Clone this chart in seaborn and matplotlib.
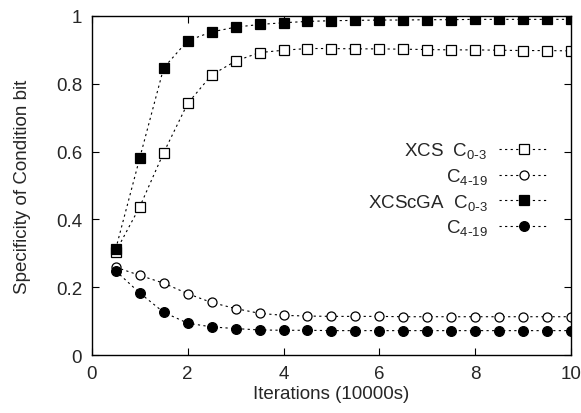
import numpy as np
import seaborn as sns
import matplotlib.pyplot as plt

# data
iterations = [0.5, 1, 1.5, 2, 2.5, 3, 3.5, 4, 4.5, 5,
              5.5, 6, 6.5, 7, 7.5, 8, 8.5, 9, 9.5, 10]
xcs_c03 = [0.305, 0.437, 0.597, 0.742, 0.826, 0.867, 0.892, 0.899, 0.904, 0.904,
           0.903, 0.903, 0.902, 0.901, 0.900, 0.900, 0.899, 0.898, 0.898, 0.897]
xcs_c419 = [0.259, 0.235, 0.212, 0.181, 0.155, 0.137, 0.123, 0.117, 0.115, 0.114,
            0.114, 0.114, 0.113, 0.113, 0.113, 0.113, 0.113, 0.113, 0.113, 0.113]
cga_c03 = [0.313, 0.581, 0.847, 0.927, 0.953, 0.967, 0.975, 0.980, 0.984, 0.986,
           0.987, 0.988, 0.988, 0.989, 0.989, 0.990, 0.990, 0.990, 0.990, 0.990]
cga_c419 = [0.248, 0.183, 0.126, 0.094, 0.083, 0.078, 0.074, 0.073, 0.073, 0.072,
            0.072, 0.072, 0.072, 0.072, 0.072, 0.072, 0.072, 0.072, 0.072, 0.072]

labels = [r"XCS  $\mathregular{C_{0\text{-}3}}$", r"$\mathregular{C_{4\text{-}19}}$",
          r"XCScGA  $\mathregular{C_{0\text{-}3}}$", r"$\mathregular{C_{4\text{-}19}}$"]

sns.set_style("ticks")
plt.rcParams['font.family'] = ['Liberation Sans', 'DejaVu Sans']
plt.rcParams['font.size'] = 13.5
plt.rcParams['xtick.direction'] = 'in'
plt.rcParams['ytick.direction'] = 'in'

fig, ax = plt.subplots(figsize=(5.81, 4.14), dpi=100)
fig.subplots_adjust(left=0.158, right=0.983, top=0.959, bottom=0.140)

dash = (0, (2, 3))
common = dict(color='black', linewidth=0.8, linestyle=dash, markeredgecolor='black',
              markeredgewidth=0.9)
sns.lineplot(x=iterations, y=xcs_c03, ax=ax, marker='s', markersize=6.5,
             markerfacecolor='white', label=labels[0], **common)
sns.lineplot(x=iterations, y=xcs_c419, ax=ax, marker='o', markersize=6.5,
             markerfacecolor='white', label=labels[1], **common)
sns.lineplot(x=iterations, y=cga_c03, ax=ax, marker='s', markersize=7,
             markerfacecolor='black', label=labels[2], **common)
sns.lineplot(x=iterations, y=cga_c419, ax=ax, marker='o', markersize=7,
             markerfacecolor='black', label=labels[3], **common)

ax.set_xlim(0, 10)
ax.set_ylim(0, 1)
ax.set_xticks([0, 2, 4, 6, 8, 10])
ax.set_yticks([0, 0.2, 0.4, 0.6, 0.8, 1])
ax.set_yticklabels(['0', '0.2', '0.4', '0.6', '0.8', '1'])
ax.tick_params(top=True, right=True, length=5, width=0.8, color='black', pad=7)
for s in ax.spines.values():
    s.set_linewidth(1.0)
    s.set_color('black')
ax.set_xlabel("Iterations (10000s)", labelpad=2)
ax.set_ylabel("Specificity of Condition bit", labelpad=18)

ax.legend(loc='center right', bbox_to_anchor=(0.99, 0.49), frameon=False,
          markerfirst=False, handlelength=2.7, labelspacing=0.3, handletextpad=0.6)

fig.savefig("out.png", dpi=100)
